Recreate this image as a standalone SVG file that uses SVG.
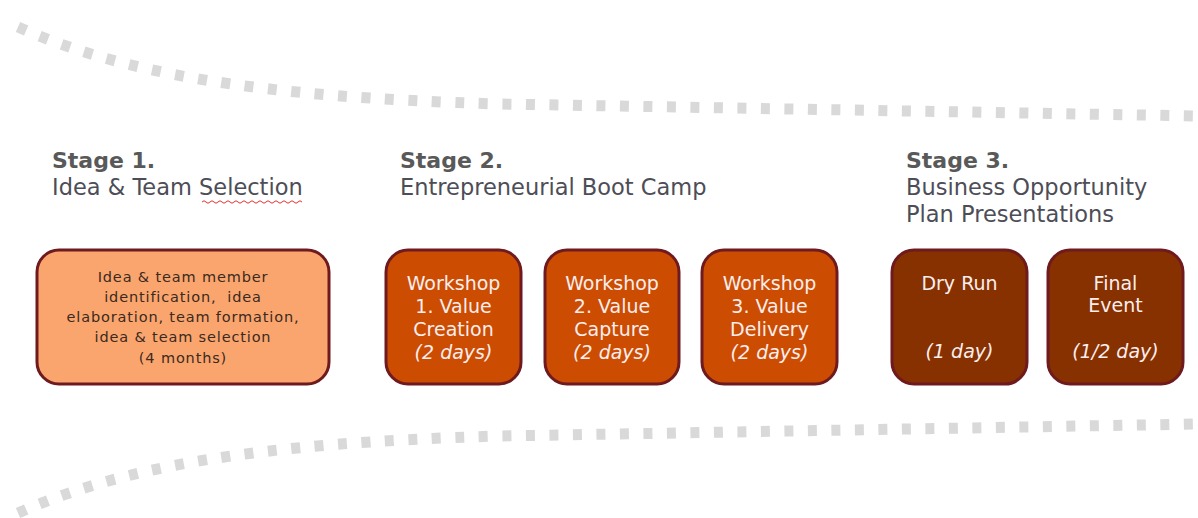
<svg xmlns="http://www.w3.org/2000/svg" width="1198" height="518" viewBox="0 0 1198 518">
  <style>
    .funnel { fill: none; stroke: #d9d9d9; stroke-width: 11; stroke-dasharray: 9 14.5; }
    .head { font-family: "DejaVu Sans", Verdana, sans-serif; font-size: 22px; font-weight: bold; fill: #595959; }
    .sub { font-family: "DejaVu Sans", Verdana, sans-serif; font-size: 22.5px; fill: #4d4d57; }
    .box { stroke: #6e1a1e; stroke-width: 3; }
    .b1 { fill: #fba56e; }
    .b2 { fill: #cc4c02; }
    .b3 { fill: #873000; }
    .small { font-family: "DejaVu Sans", Verdana, sans-serif; font-size: 14.5px; letter-spacing: 0.85px; fill: #3a2a20; text-anchor: middle; }
    .lbl { font-family: "DejaVu Sans", Verdana, sans-serif; font-size: 19px; fill: #fbeeee; text-anchor: middle; }
    .it { font-style: italic; }
  </style>

  <!-- funnel outline: two dotted curves -->
  <g id="connectors">
    <path class="funnel" d="M18,27 C120,72 250,97 500,104 L1198,116"/>
    <path class="funnel" d="M18,27 C120,72 250,97 500,104 L1198,116" transform="translate(0,540) scale(1,-1)"/>
  </g>

  <!-- stage headings -->
  <g id="stage1-title">
    <text class="head" x="52" y="168">Stage 1.</text>
    <text class="sub" x="52" y="195">Idea &amp; Team Selection</text>
    <path d="M202,202 q2,-2.5 4,0 t4,0 t4,0 t4,0 t4,0 t4,0 t4,0 t4,0 t4,0 t4,0 t4,0 t4,0 t4,0 t4,0 t4,0 t4,0 t4,0 t4,0 t4,0 t4,0 t4,0 t4,0 t4,0 t4,0 t4,0" fill="none" stroke="#e03030" stroke-width="1"/>
  </g>
  <g id="stage2-title">
    <text class="head" x="400" y="168">Stage 2.</text>
    <text class="sub" x="400" y="195">Entrepreneurial Boot Camp</text>
  </g>
  <g id="stage3-title">
    <text class="head" x="906" y="168">Stage 3.</text>
    <text class="sub" x="906" y="195">Business Opportunity</text>
    <text class="sub" x="906" y="222">Plan Presentations</text>
  </g>

  <!-- stage 1 box -->
  <g id="idea-team">
    <rect class="box b1" x="37" y="250" width="292" height="134" rx="22"/>
    <text class="small" x="183" y="282">Idea &amp; team member</text>
    <text class="small" x="183" y="302" xml:space="preserve">identification,  idea</text>
    <text class="small" x="183" y="322">elaboration, team formation,</text>
    <text class="small" x="183" y="342">idea &amp; team selection</text>
    <text class="small" x="183" y="363">(4 months)</text>
  </g>

  <!-- stage 2 workshops -->
  <g id="workshop1">
    <rect class="box b2" x="386" y="250" width="135" height="134" rx="22"/>
    <text class="lbl" x="453.5" y="290">Workshop</text>
    <text class="lbl" x="453.5" y="313">1. Value</text>
    <text class="lbl" x="453.5" y="336">Creation</text>
    <text class="lbl it" x="453.5" y="359">(2 days)</text>
  </g>
  <g id="workshop2">
    <rect class="box b2" x="545" y="250" width="134" height="134" rx="22"/>
    <text class="lbl" x="612" y="290">Workshop</text>
    <text class="lbl" x="612" y="313">2. Value</text>
    <text class="lbl" x="612" y="336">Capture</text>
    <text class="lbl it" x="612" y="359">(2 days)</text>
  </g>
  <g id="workshop3">
    <rect class="box b2" x="702" y="250" width="135" height="134" rx="22"/>
    <text class="lbl" x="769.5" y="290">Workshop</text>
    <text class="lbl" x="769.5" y="313">3. Value</text>
    <text class="lbl" x="769.5" y="336">Delivery</text>
    <text class="lbl it" x="769.5" y="359">(2 days)</text>
  </g>

  <!-- stage 3 events -->
  <g id="dry-run">
    <rect class="box b3" x="892" y="250" width="135" height="134" rx="22"/>
    <text class="lbl" x="959.5" y="290">Dry Run</text>
    <text class="lbl it" x="959.5" y="358">(1 day)</text>
  </g>
  <g id="final-event">
    <rect class="box b3" x="1048" y="250" width="135" height="134" rx="22"/>
    <text class="lbl" x="1115.5" y="290">Final</text>
    <text class="lbl" x="1115.5" y="312">Event</text>
    <text class="lbl it" x="1115.5" y="358">(1/2 day)</text>
  </g>
</svg>
